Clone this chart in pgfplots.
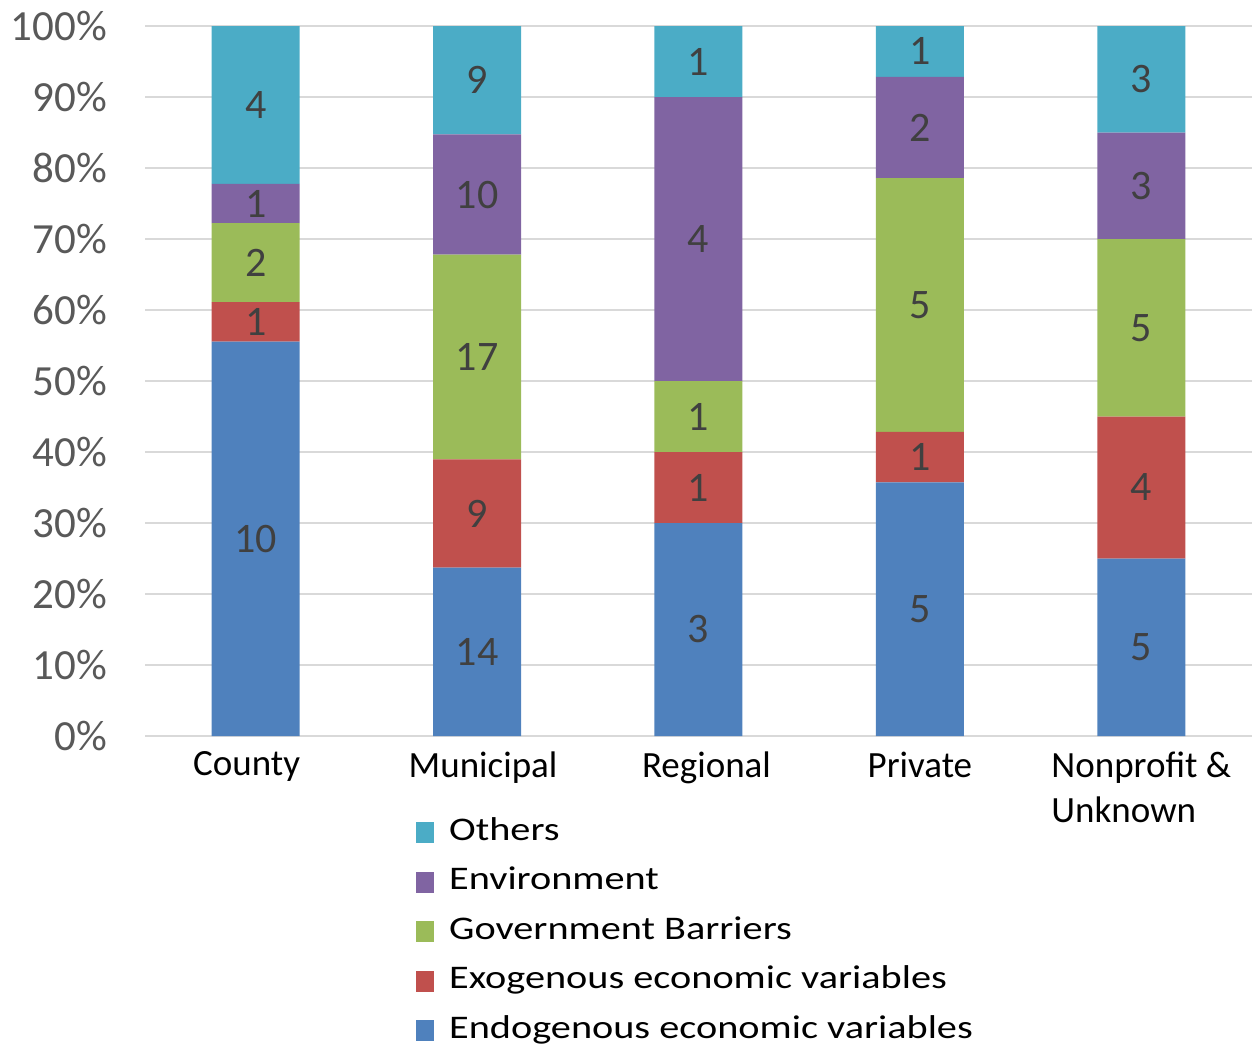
\documentclass[border=0pt]{standalone}
\usepackage{pgfplots}
\pgfplotsset{compat=1.18}
\usepackage{pgfplotstable}
\usepackage{fontspec}
\setmainfont{Carlito}
\newfontfamily\legfont[FakeStretch=1.22]{Carlito}
\definecolor{cEndo}{HTML}{4F81BD}
\definecolor{cExo}{HTML}{C0504D}
\definecolor{cGov}{HTML}{9BBB59}
\definecolor{cEnv}{HTML}{8064A2}
\definecolor{cOth}{HTML}{4BACC6}
\definecolor{cGrid}{HTML}{D9D9D9}
\definecolor{cTick}{HTML}{595959}
\definecolor{cLab}{HTML}{404040}

\pgfplotstableread{
x pct n
0 55.56 10
1 23.73 14
2 30.00 3
3 35.71 5
4 25.00 5
}\endo
\pgfplotstableread{
x pct n
0 5.55 1
1 15.25 9
2 10.00 1
3 7.14 1
4 20.00 4
}\exo
\pgfplotstableread{
x pct n
0 11.11 2
1 28.81 17
2 10.00 1
3 35.71 5
4 25.00 5
}\gov
\pgfplotstableread{
x pct n
0 5.56 1
1 16.95 10
2 40.00 4
3 14.29 2
4 15.00 3
}\env
\pgfplotstableread{
x pct n
0 22.22 4
1 15.25 9
2 10.00 1
3 7.14 1
4 15.00 3
}\oth

\begin{document}
\begin{tikzpicture}
\begin{axis}[
  at={(145pt,-736pt)}, anchor=south west,
  scale only axis, width=1107pt, height=710pt,
  ybar stacked, bar width=88pt,
  xmin=-0.5, xmax=4.5, ymin=0, ymax=100,
  xtick={0,1,2,3,4},
  xticklabels={{County\hspace*{18pt}}, {\hspace*{12pt}Municipal}, {\hspace*{16pt}Regional}, Private, {Nonprofit \&\\Unknown}},
  xticklabel style={font=\fontsize{37}{45}\selectfont, text=black, align=left, anchor=north, inner sep=0pt, yshift=-15.5pt},
  ytick={0,10,...,100},
  yticklabel={\pgfmathprintnumber{\tick}\%},
  yticklabel style={font=\fontsize{43}{50}\selectfont, text=cTick, anchor=east, inner sep=0pt, xshift=-38pt},
  /pgf/number format/assume math mode=true,
  major tick length=0pt,
  tick style={draw=none},
  axis line style={draw=none},
  ymajorgrids,
  major grid style={draw=cGrid, line width=2pt},
  point meta=explicit,
  nodes near coords,
  every node near coord/.append style={anchor=center, font=\fontsize{42}{48}\selectfont, text=cLab},
  legend image code/.code={\fill[#1] (0pt,-10.5pt) rectangle (18pt,10.5pt);},
  reverse legend,
  legend cell align=left,
  legend style={at={(axis description cs:0.2448,-0.1127)}, anchor=north west,
    draw=none, fill=none, inner sep=0pt, row sep=16.5pt, column sep=15pt,
    font=\fontsize{33}{40}\legfont, text=black,
    nodes={inner sep=0pt, text height=24pt, text depth=9pt}},
]
\addplot[fill=cEndo, draw=none] table[x=x, y=pct, meta=n] {\endo};
\addlegendentry{Endogenous economic variables}
\addplot[fill=cExo, draw=none] table[x=x, y=pct, meta=n] {\exo};
\addlegendentry{Exogenous economic variables}
\addplot[fill=cGov, draw=none] table[x=x, y=pct, meta=n] {\gov};
\addlegendentry{Government Barriers}
\addplot[fill=cEnv, draw=none] table[x=x, y=pct, meta=n] {\env};
\addlegendentry{Environment}
\addplot[fill=cOth, draw=none] table[x=x, y=pct, meta=n] {\oth};
\addlegendentry{Others}
\end{axis}
\pgfresetboundingbox
\useasboundingbox (0pt,0pt) rectangle (1252pt,-1046pt);
\end{tikzpicture}
\end{document}
